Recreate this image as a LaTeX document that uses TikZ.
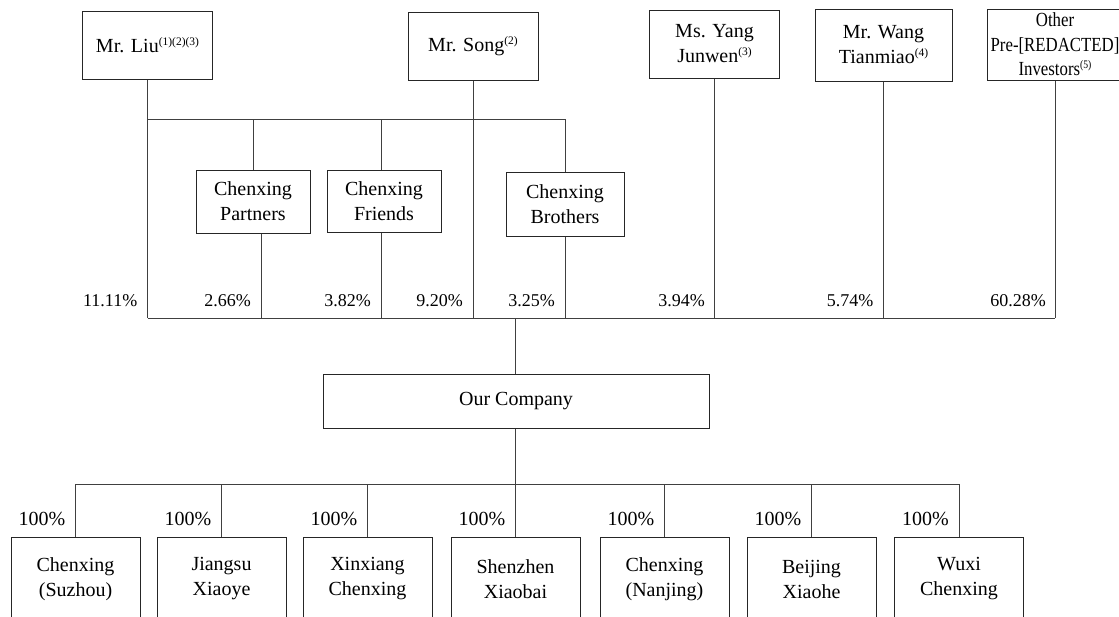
\documentclass[tikz,border=0pt]{standalone}
\usepackage{fontspec}
\setmainfont{Liberation Serif}
\newfontfamily\condensed[FakeStretch=0.84]{Liberation Serif}
\newcommand\supnote[1]{\raisebox{7pt}{\fontsize{11.5}{12}\selectfont #1}}
\begin{document}
\begin{tikzpicture}[x=1pt,y=-1pt,
  box/.style={draw=black!85, line width=1pt, inner sep=0pt, align=center, font=\fontsize{20}{25}\selectfont},
  ln/.style={draw=black!75, line width=1pt},
  pct/.style={anchor=base east, inner sep=0pt, font=\fontsize{18}{22}\selectfont},
  pctb/.style={anchor=base east, inner sep=0pt, font=\fontsize{20}{24}\selectfont},
  sub/.style={box, minimum width=129pt, minimum height=84pt}
]
\useasboundingbox (0,0) rectangle (1119,616);
\clip (0,0) rectangle (1119,616);
\coordinate (topbar) at (0,119);
\coordinate (botbar) at (0,318);
\coordinate (subbar) at (0,484);

% shareholders
\node[box, minimum width=130pt, minimum height=68pt] (liu) at (147.5,45) {Mr. Liu\supnote{(1)(2)(3)}};
\node[box, minimum width=130pt, minimum height=68pt] (song) at (473,46) {Mr. Song\supnote{(2)}};
\node[box, minimum width=130pt, minimum height=68pt] (yang) at (714.5,44) {Ms. Yang\\Junwen\supnote{(3)}};
\node[box, minimum width=137pt, minimum height=72pt] (wang) at (883.5,45) {Mr. Wang\\Tianmiao\supnote{(4)}};
\node[box, minimum width=136pt, minimum height=71pt, font=\condensed\fontsize{20}{24.5}\selectfont] (other) at (1055,44.5) {Other\\Pre-[REDACTED]\\Investors\supnote{(5)}};

\node[box, minimum width=114pt, minimum height=63pt] (partners) at (253,201.5) {Chenxing\\Partners};
\node[box, minimum width=114pt, minimum height=62pt] (friends) at (384,201) {Chenxing\\Friends};
\node[box, minimum width=118pt, minimum height=64pt] (brothers) at (565,204) {Chenxing\\Brothers};

\node[box, minimum width=386pt, minimum height=54pt] (company) at (516,401) {Our Company};

% subsidiaries
\node[sub] (s1) at (75.5,579) {Chenxing\\(Suzhou)};
\node[sub] (s2) at (221.5,579) {Jiangsu\\Xiaoye};
\node[sub] (s3) at (367.5,579) {Xinxiang\\Chenxing};
\node[sub] (s4) at (515.5,579) {Shenzhen\\Xiaobai};
\node[sub] (s5) at (664.5,579) {Chenxing\\(Nanjing)};
\node[sub] (s6) at (811.5,579) {Beijing\\Xiaohe};
\node[sub] (s7) at (959,579) {Wuxi\\Chenxing};

% upper connectors
\draw[ln] (liu.south) -- (liu.south |- botbar);
\draw[ln] (liu.south |- topbar) -- (brothers.north |- topbar);
\draw[ln] (partners.north) -- (partners.north |- topbar);
\draw[ln] ([xshift=-3pt]friends.north) -- ([xshift=-3pt]friends.north |- topbar);
\draw[ln] (brothers.north) -- (brothers.north |- topbar);
\draw[ln] (song.south) -- (song.south |- botbar);
\draw[ln] ([xshift=8pt]partners.south) -- ([xshift=8pt]partners.south |- botbar);
\draw[ln] ([xshift=-3pt]friends.south) -- ([xshift=-3pt]friends.south |- botbar);
\draw[ln] (brothers.south) -- (brothers.south |- botbar);
\draw[ln] (yang.south) -- (yang.south |- botbar);
\draw[ln] (wang.south) -- (wang.south |- botbar);
\draw[ln] (other.south) -- (other.south |- botbar);
\draw[ln] (liu.south |- botbar) -- (other.south |- botbar);
\draw[ln] ([xshift=-0.5pt]company.north) -- ([xshift=-0.5pt]company.north |- botbar);

% lower connectors
\draw[ln] ([xshift=-0.5pt]company.south) -- ([xshift=-0.5pt]company.south |- subbar);
\draw[ln] (s1.north |- subbar) -- (s7.north |- subbar);
\foreach \s in {s1,s2,s3,s4,s5,s6,s7}{
  \draw[ln] (\s.north) -- (\s.north |- subbar);
}

% percentages
\node[pct] (p1) at (137.5,306) {11.11\%};
\node[pct] (p2) at (251,306) {2.66\%};
\node[pct] (p3) at (371,306) {3.82\%};
\node[pct] (p4) at (463,306) {9.20\%};
\node[pct] (p5) at (555,306) {3.25\%};
\node[pct] (p6) at (705,306) {3.94\%};
\node[pct] (p7) at (873.5,306) {5.74\%};
\node[pct] (p8) at (1046,306) {60.28\%};

\node[pctb] (q1) at (65.5,525) {100\%};
\node[pctb] (q2) at (211.5,525) {100\%};
\node[pctb] (q3) at (357.5,525) {100\%};
\node[pctb] (q4) at (505.5,525) {100\%};
\node[pctb] (q5) at (654.5,525) {100\%};
\node[pctb] (q6) at (801.5,525) {100\%};
\node[pctb] (q7) at (949,525) {100\%};
\end{tikzpicture}
\end{document}
